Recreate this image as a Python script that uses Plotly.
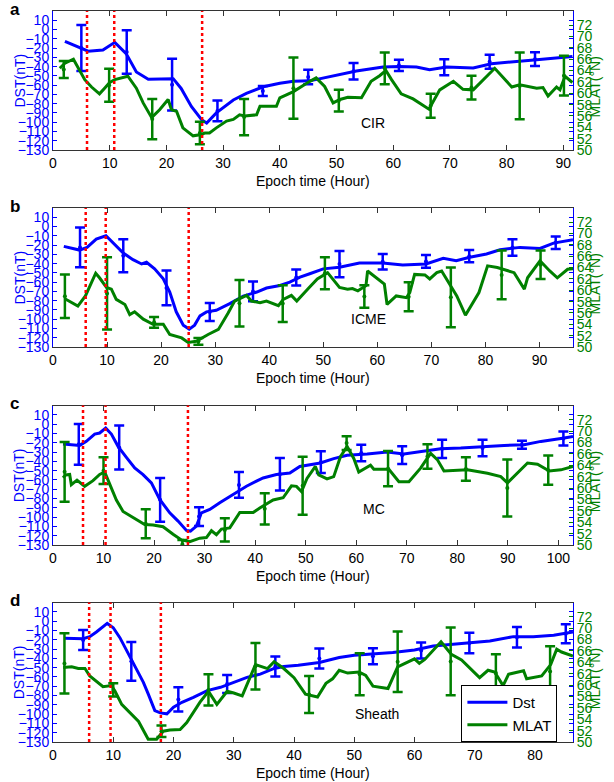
import plotly.graph_objects as go

BLUE = '#0000FF'
GREEN = '#008000'
RED = '#FF0000'
FONT = 'Liberation Sans, Arial, Helvetica, sans-serif'

# ---------------- Panel a (CIR) ----------------
A_DST_X = [2.1, 4.7, 6.2, 8.8, 10.9, 12.9, 14.7, 16.8, 19.4, 21.2, 22.6, 24.4, 26.2, 27.1, 28.8, 31.8, 34.1,
           37.1, 40.0, 42.4, 45.3, 49.4, 53.5, 58.2, 61.1, 64.1, 66.4, 69.4, 74.1, 77.3, 81.1, 85.3, 91.6]
A_DST = [-12.7, -19, -23.4, -22, -13.8, -26, -45.8, -53.6, -53.6, -53, -63.6, -83, -97.3, -100.9, -90, -76, -69,
         -61.8, -58, -55.7, -55.4, -50.4, -44.7, -40.5, -39.8, -40.5, -43.3, -40.5, -41.5, -36.9, -35.1, -32.6, -29.1]
A_MLAT_X = [1.2, 2.1, 3.6, 4.7, 5.6, 6.8, 8.2, 9.1, 10.0, 10.9, 13.2, 14.7, 15.9, 17.4, 18.8, 20.3, 20.9, 21.8,
            22.9, 24.7, 25.9, 26.8, 27.6, 28.8, 30.6, 31.8, 32.9, 33.8, 35.9, 36.5, 39.4, 40.0, 42.4, 45.3, 46.4,
            47.9, 49.4, 50.6, 52.0, 54.4, 56.1, 57.6, 58.7, 59.7, 61.4, 63.5, 65.0, 66.3, 68.2, 70.6, 72.3, 74.1,
            77.9, 80.9, 82.3, 85.3, 86.4, 87.3, 88.8, 89.4, 90.3, 91.6]
A_MLAT = [64.4, 65.3, 66.0, 64.1, 62.4, 61.1, 59.9, 60.9, 61.9, 62.4, 63.0, 60.9, 58.3, 55.7, 57.1, 58.9, 57.1, 56.8,
          53.9, 52.5, 52.7, 53.0, 53.0, 53.9, 55.1, 55.4, 56.2, 56.0, 56.2, 57.7, 57.7, 59.2, 60.3, 62.1, 62.7,
          61.2, 58.3, 58.9, 59.3, 59.2, 62.1, 63.1, 64.0, 62.4, 59.9, 59.0, 58.0, 57.2, 60.6, 62.1, 60.7, 60.6,
          64.4, 61.1, 61.5, 60.9, 61.0, 59.5, 61.1, 60.6, 63.0, 61.9]
A_DST_EX = [5, 13, 21, 29, 37, 45, 53, 61, 69, 77, 85]
A_DST_LO = [-44.7, -47.6, -87.4, -99, -71.7, -59, -54, -44.7, -49.3, -42.2, -39.4]
A_DST_HI = [5, -0.7, -31.6, -76.7, -61, -43.3, -36.2, -32.6, -32, -27.3, -24.5]
A_MLAT_EX = [1.9, 9.9, 17.5, 25.9, 33.7, 42.4, 50.4, 58.5, 66.6, 73.8, 82.3, 90.1]
A_MLAT_LO = [62.7, 58.5, 51.9, 51.0, 52.6, 55.5, 56.8, 61.6, 55.7, 58.9, 55.4, 59.6]
A_MLAT_HI = [65.7, 64.3, 59.0, 55.0, 59.0, 66.3, 60.6, 67.2, 59.9, 63.1, 67.2, 66.6]
A_EVENTS = [6.0, 10.8, 26.3]
A_XMAX = 91.7
A_XTICKS = [0, 10, 20, 30, 40, 50, 60, 70, 80, 90]

# ---------------- Panel b (ICME) ----------------
B_DST_X = [2, 3.4, 4.9, 6.3, 8, 9.8, 11.4, 13, 14.8, 16.4, 17.3, 18.8, 20.4, 21.6, 22.8, 24.1, 25.2, 26.2, 27.2,
           28.4, 30.2, 32.7, 35.2, 37.7, 39.5, 42, 43.8, 45.7, 47.5, 50, 53, 56.7, 61, 64.7, 69, 72.2, 74.6, 77.1,
           80.2, 82.7, 86.4, 90.1, 92.6, 96.2]
B_DST = [-21.4, -23.6, -25.4, -22.5, -13.6, -10, -18.9, -28.6, -35.7, -40.4, -38.6, -45.7, -56.4, -70.7, -92,
         -106.4, -110.7, -106.4, -96.4, -92.1, -90.4, -83.2, -75, -70.7, -66.4, -63.6, -60, -54.6, -51, -45.7,
         -43.9, -39.3, -39.3, -41.4, -40.4, -34.3, -36.8, -33.2, -29.6, -25, -22.5, -23.6, -17.9, -14.3]
B_MLAT_X = [2.2, 3.4, 4.6, 6.0, 7.9, 8.6, 9.9, 10.8, 11.7, 13.3, 14.2, 15.1, 16.7, 18.5, 20.4, 21.6, 23.8, 25.0,
            26.5, 28.7, 30.6, 32.4, 33.6, 35.8, 36.7, 38.3, 39.5, 41.7, 42.6, 44.1, 45.1, 47.4, 48.9, 50.8, 53.0,
            54.5, 55.4, 56.4, 57.9, 58.2, 61.3, 61.8, 63.5, 65.4, 66.0, 66.9, 68.8, 69.7, 71.0, 71.9, 74.7, 76.3,
            78.8, 80.4, 82.2, 85.3, 87.2, 87.8, 90.1, 91.9, 93.3, 95.2, 97.4]
B_MLAT = [58.5, 57.8, 57.2, 59.0, 63.0, 62.2, 60.5, 60.2, 58.4, 57.5, 55.7, 56.2, 54.9, 54.0, 54.0, 52.2, 51.6,
          50.8, 51.0, 52.2, 53.1, 56.0, 58.1, 59.1, 58.1, 57.8, 58.1, 57.3, 58.4, 59.1, 58.1, 60.5, 62.0, 63.1,
          60.5, 60.2, 60.3, 59.9, 60.8, 63.4, 61.1, 57.5, 59.0, 58.7, 59.6, 62.8, 62.7, 62.0, 63.1, 63.4, 59.0,
          55.6, 59.6, 64.3, 64.0, 63.1, 60.2, 62.2, 65.2, 63.4, 62.2, 63.7, 63.9]
B_DST_EX = [5, 13, 21, 29, 37, 45, 53, 61, 69, 77, 85, 93]
B_DST_LO = [-44, -49.3, -85, -102, -80.7, -63.6, -54.6, -46.4, -44.6, -38.6, -31.4, -24.3]
B_DST_HI = [-1, -13.6, -47.5, -82.5, -59.3, -46.4, -26.4, -29.6, -30.7, -25.4, -13.6, -10.7]
B_MLAT_EX = [2.2, 10.0, 18.7, 26.9, 34.5, 42.5, 50.3, 57.6, 65.8, 73.6, 83.0, 90.2]
B_MLAT_LO = [55.1, 53.1, 53.4, 50.4, 53.6, 54.4, 60.2, 56.9, 56.3, 53.5, 58.4, 62.0]
B_MLAT_HI = [62.8, 65.8, 55.3, 51.6, 61.8, 60.9, 65.8, 60.9, 61.4, 64.0, 67.0, 67.0]
B_EVENTS = [6.05, 9.75, 25.1]
B_XMAX = 96.2
B_XTICKS = [0, 10, 20, 30, 40, 50, 60, 70, 80, 90]

# ---------------- Panel c (MC) ----------------
C_DST_X = [1.98, 3.63, 5.28, 6.6, 8.25, 9.24, 10.43, 11.55, 12.87, 14.52, 16.17, 17.82, 19.47, 21.12, 23.1,
           24.75, 26.4, 27.2, 28.38, 29.37, 31.02, 33.0, 35.64, 38.28, 40.26, 41.58, 44.22, 46.86, 48.84, 50.8,
           52.91, 55.55, 58.2, 62.17, 66.13, 69.44, 73.4, 76.71, 80.68, 85.31, 89.27, 93.24, 96.55, 101.17, 102.9]
C_DST = [-21.4, -22.1, -22.9, -18.6, -10.7, -9.6, -4.3, -10.7, -23.9, -35.7, -47.1, -54.3, -63.2, -81.0, -95.4,
         -104.3, -114.3, -115.0, -109.6, -95.4, -91.8, -84.6, -75.7, -66.8, -61.4, -57.9, -54.3, -52.5, -45.5, -43.5,
         -41.8, -37.1, -33.6, -32.1, -30.0, -32.1, -28.6, -26.4, -25.7, -23.9, -22.9, -22.1, -18.6, -15.0, -13.2]
C_MLAT_X = [1.98, 2.51, 3.3, 3.63, 4.75, 6.27, 7.92, 9.24, 10.23, 11.22, 12.54, 13.86, 15.84, 18.15, 19.8, 21.78,
            23.76, 25.41, 27.06, 29.04, 30.36, 31.35, 32.34, 33.33, 34.98, 36.96, 39.6, 40.92, 43.56, 45.54, 47.19,
            48.18, 49.17, 50.26, 51.92, 52.58, 54.23, 55.55, 56.88, 58.2, 59.52, 60.51, 62.83, 63.49, 66.46, 68.45,
            70.43, 72.74, 74.73, 76.05, 77.37, 82.0, 85.97, 88.61, 89.93, 91.92, 93.9, 95.88, 98.2, 100.51, 102.9]
C_MLAT = [61.8, 62.3, 62.4, 60.6, 61.4, 60.3, 61.3, 62.4, 62.8, 60.7, 57.9, 55.9, 54.8, 53.6, 53.5, 53.2, 51.9,
          50.9, 50.6, 51.2, 51.3, 52.5, 51.8, 52.8, 53.0, 55.7, 55.7, 56.5, 57.9, 58.3, 60.4, 60.3, 59.4, 61.7,
          63.8, 62.3, 61.6, 62.0, 65.5, 67.3, 65.2, 62.8, 64.0, 63.3, 63.3, 61.1, 61.1, 63.5, 66.1, 65.0, 63.0,
          63.2, 62.6, 62.0, 60.9, 62.6, 64.4, 64.2, 63.0, 63.2, 63.8]
C_DST_EX = [5.1, 13.1, 21.2, 28.9, 36.8, 44.9, 53.0, 61.0, 69.1, 77.0, 85.0, 92.8, 101.0]
C_DST_LO = [-43.6, -48.9, -105, -109.6, -79.3, -71.4, -52.5, -40, -42.9, -36.4, -34.6, -26.4, -22.9]
C_DST_HI = [0, -1.4, -57.9, -89.3, -51.4, -36.4, -29.3, -22.1, -23.9, -16.8, -16.8, -17.9, -7.9]
C_MLAT_EX = [2.3, 10.0, 18.35, 25.6, 34.0, 41.9, 49.4, 58.1, 66.3, 74.1, 81.7, 89.9, 98.0]
C_MLAT_LO = [57.6, 60.7, 51.2, 49.4, 50.6, 53.6, 55.3, 66.7, 60.3, 63.4, 61.3, 55.0, 60.6]
C_MLAT_HI = [68.1, 65.4, 56.3, 50.9, 54.7, 59.1, 65.5, 69.1, 66.5, 67.7, 65.4, 65.0, 65.7]
C_EVENTS = [5.94, 10.4, 26.7]
C_XMAX = 102.9
C_XTICKS = [0, 10, 20, 30, 40, 50, 60, 70, 80, 90, 100]

# ---------------- Panel d (Sheath) ----------------
D_DST_X = [1.9, 5.0, 6.1, 7.2, 9.0, 10.0, 11.1, 12.5, 13.9, 15.0, 15.8, 16.9, 17.8, 18.9, 20.0, 21.4, 23.3, 25.6,
           27.8, 30.0, 32.2, 34.4, 36.7, 38.3, 40.7, 44.2, 47.5, 50.0, 53.1, 56.4, 60.0, 63.1, 66.4, 69.7, 72.5,
           76.4, 79.7, 83.1, 86.3]
D_DST = [-18.5, -18.9, -16.7, -11.7, -2.5, -7.1, -17.8, -35.6, -53.4, -65.9, -78.3, -96.2, -98.7, -99.7, -92.6,
         -87.3, -81.9, -74.8, -71.2, -65.9, -60.5, -57.0, -50.9, -48.8, -47.4, -44.5, -39.2, -36.7, -35.6, -33.8,
         -31.0, -26.7, -24.9, -23.1, -21.4, -16.7, -16.7, -15.3, -11.7]
D_MLAT_X = [1.7, 3.1, 4.2, 5.3, 6.1, 7.2, 8.3, 9.7, 10.3, 11.4, 12.8, 14.2, 15.8, 17.2, 18.3, 19.4, 21.1, 22.2,
            24.4, 25.8, 27.2, 28.9, 30.0, 31.4, 33.6, 35.6, 36.7, 38.3, 40.0, 41.9, 43.9, 45.3, 46.4, 47.5, 48.9,
            50.8, 51.9, 53.1, 55.6, 57.2, 60.0, 60.8, 61.7, 64.4, 66.1, 67.8, 70.8, 72.2, 73.3, 74.7, 75.6, 78.1,
            78.6, 81.1, 82.6, 83.6, 84.4, 86.3]
D_MLAT = [63.1, 63.2, 62.9, 62.9, 61.6, 60.7, 59.7, 59.9, 58.9, 56.6, 55.1, 53.6, 50.5, 50.5, 51.9, 52.1, 52.2,
          53.4, 57.0, 58.9, 56.6, 58.9, 58.6, 58.1, 63.6, 62.9, 64.1, 62.9, 61.3, 58.4, 57.9, 60.3, 61.1, 62.6,
          62.1, 62.3, 61.7, 59.8, 59.4, 63.2, 64.6, 63.8, 64.5, 67.6, 65.4, 64.4, 61.3, 62.6, 62.3, 59.9, 61.9,
          62.5, 61.1, 61.6, 63.6, 66.3, 65.8, 65.1]
D_DST_EX = [5, 13, 20.8, 28.9, 36.9, 44.2, 53.1, 61.1, 69.1, 77, 85.1]
D_DST_LO = [-31, -64.1, -97.2, -77.3, -59.5, -50.9, -46.3, -40.2, -34.5, -28.5, -23.8]
D_DST_HI = [-9.6, -22.4, -71.2, -58, -38.1, -29.5, -29.2, -23.1, -12.4, -6.4, -3.5]
D_MLAT_EX = [1.9, 10.0, 18.0, 25.8, 33.6, 42.5, 50.9, 57.2, 66.0, 73.5, 82.5]
D_MLAT_LO = [58.5, 58.0, 50.9, 56.4, 59.2, 55.1, 58.2, 58.8, 58.2, 58.8, 58.0]
D_MLAT_HI = [69.1, 60.3, 52.9, 61.9, 67.4, 61.6, 65.6, 69.4, 70.1, 65.4, 66.8]
D_EVENTS = [6.0, 9.55, 17.9]
D_XMAX = 86.3
D_XTICKS = [0, 10, 20, 30, 40, 50, 60, 70, 80]

PANEL_LETTERS = ['a', 'b', 'c', 'd']
EVENT_NAMES = ['CIR', 'ICME', 'MC', 'Sheath']
EVENT_LABEL_X = [56.4, 58.3, 63.5, 53.8]
EVENT_LABEL_Y = [-100.5, -99.3, -91.8, -99.7]

DST_TICKS = list(range(-130, 20, 10))
MLAT_TICKS = list(range(50, 74, 2))
DST_RANGE = [-130, 20]
MLAT_RANGE = [50, 74.5]

panels = [
    (A_DST_X, A_DST, A_MLAT_X, A_MLAT, A_DST_EX, A_DST_LO, A_DST_HI, A_MLAT_EX, A_MLAT_LO, A_MLAT_HI, A_EVENTS, A_XMAX, A_XTICKS),
    (B_DST_X, B_DST, B_MLAT_X, B_MLAT, B_DST_EX, B_DST_LO, B_DST_HI, B_MLAT_EX, B_MLAT_LO, B_MLAT_HI, B_EVENTS, B_XMAX, B_XTICKS),
    (C_DST_X, C_DST, C_MLAT_X, C_MLAT, C_DST_EX, C_DST_LO, C_DST_HI, C_MLAT_EX, C_MLAT_LO, C_MLAT_HI, C_EVENTS, C_XMAX, C_XTICKS),
    (D_DST_X, D_DST, D_MLAT_X, D_MLAT, D_DST_EX, D_DST_LO, D_DST_HI, D_MLAT_EX, D_MLAT_LO, D_MLAT_HI, D_EVENTS, D_XMAX, D_XTICKS),
]

W, H = 614, 782
ML, MR, MT, MB = 53, 41, 11, 40
PH = H - MT - MB
ROW_TOP = [11, 208, 405.5, 602.5]
ROW_BOT = [150, 347, 545, 742]

fig = go.Figure()
layout = {}
shapes = []
annotations = []


def mid_half(lo, hi):
    mids = [(a + b) / 2 for a, b in zip(lo, hi)]
    halves = [(b - a) / 2 for a, b in zip(lo, hi)]
    return mids, halves


for i, p in enumerate(panels):
    (dx, dy, mx, my, dex, dlo, dhi, mex, mlo, mhi, events, xmax, xticks) = p
    r = i + 1
    xa = 'x' if r == 1 else f'x{r}'
    yl_n, yr_n, yb_n = 3 * i + 1, 3 * i + 2, 3 * i + 3
    yl = 'y' if yl_n == 1 else f'y{yl_n}'
    yr = f'y{yr_n}'
    yb = f'y{yb_n}'
    dom = [(H - MB - ROW_BOT[i]) / PH, (H - MB - ROW_TOP[i]) / PH]

    xkey = 'xaxis' if r == 1 else f'xaxis{r}'
    layout[xkey] = dict(domain=[0, 1], anchor=yl, range=[0, xmax], tickvals=xticks,
                        ticks='inside', ticklen=5, tickcolor='#333', tickwidth=1,
                        showline=True, linecolor='#333', linewidth=1, mirror='ticks',
                        showgrid=False, zeroline=False, automargin=False,
                        tickfont=dict(family=FONT, size=14, color='black'))
    lkey = 'yaxis' if yl_n == 1 else f'yaxis{yl_n}'
    layout[lkey] = dict(domain=dom, anchor=xa, range=DST_RANGE, tickvals=DST_TICKS,
                        ticks='inside', ticklen=4, tickcolor=BLUE, tickwidth=1,
                        showline=True, linecolor=BLUE, linewidth=1,
                        showgrid=False, zeroline=False, automargin=False,
                        tickfont=dict(family=FONT, size=14, color=BLUE))
    layout[f'yaxis{yr_n}'] = dict(overlaying=yl, side='right', anchor=xa, range=MLAT_RANGE,
                                  tickvals=MLAT_TICKS, ticks='inside', ticklen=4, tickcolor=GREEN,
                                  tickwidth=1, showline=True, linecolor=BLUE, linewidth=1,
                                  showgrid=False, zeroline=False, automargin=False,
                                  tickfont=dict(family=FONT, size=14, color=GREEN))
    layout[f'yaxis{yb_n}'] = dict(overlaying=yl, side='right', anchor=xa, range=DST_RANGE,
                                  tickvals=DST_TICKS, ticks='inside', ticklen=4, tickcolor=BLUE,
                                  tickwidth=1, showticklabels=False, showline=False,
                                  showgrid=False, zeroline=False, automargin=False)

    # invisible trace so the blue-tick axis is drawn
    fig.add_trace(go.Scatter(x=[None], y=[None], xaxis=xa, yaxis=yb, showlegend=False,
                             hoverinfo='skip'))

    fig.add_trace(go.Scatter(x=dx, y=dy, mode='lines', name='Dst', xaxis=xa, yaxis=yl,
                             line=dict(color=BLUE, width=3), showlegend=(r == 1),
                             legendrank=1))
    dm, dh = mid_half(dlo, dhi)
    fig.add_trace(go.Scatter(x=dex, y=dm, mode='markers', xaxis=xa, yaxis=yl, showlegend=False,
                             marker=dict(color=BLUE, size=4),
                             error_y=dict(type='data', array=dh, visible=True, color=BLUE,
                                          thickness=2.5, width=5)))

    fig.add_trace(go.Scatter(x=mx, y=my, mode='lines', name='MLAT', xaxis=xa, yaxis=yr,
                             line=dict(color=GREEN, width=3), showlegend=(r == 1),
                             legendrank=2))
    mm, mh = mid_half(mlo, mhi)
    fig.add_trace(go.Scatter(x=mex, y=mm, mode='markers', xaxis=xa, yaxis=yr, showlegend=False,
                             marker=dict(color=GREEN, size=4),
                             error_y=dict(type='data', array=mh, visible=True, color=GREEN,
                                          thickness=2.5, width=5)))

    for ev in events:
        shapes.append(dict(type='line', xref=xa, yref=f'{yl} domain', x0=ev, x1=ev, y0=0, y1=1,
                           line=dict(color=RED, width=2.5, dash='dot'), layer='above'))

    # texts
    annotations.append(dict(text=EVENT_NAMES[i], x=EVENT_LABEL_X[i], y=EVENT_LABEL_Y[i],
                            xref=xa, yref=yl, showarrow=False,
                            font=dict(family=FONT, size=14, color='black')))
    annotations.append(dict(text=f'<b>{PANEL_LETTERS[i]}</b>', x=(8 - ML) / (W - ML - MR), y=1,
                            xref='paper', yref=f'{yl} domain', yanchor='middle', yshift=2,
                            showarrow=False, font=dict(family=FONT, size=17, color='black')))
    annotations.append(dict(text='DST(nT)', x=(9 - ML) / (W - ML - MR), y=0.5, xref='paper',
                            yref=f'{yl} domain', textangle=-90, showarrow=False,
                            font=dict(family=FONT, size=14, color=BLUE)))
    annotations.append(dict(text='MLAT(°N)', x=(605 - ML) / (W - ML - MR), y=0.45, xref='paper',
                            yref=f'{yl} domain', textangle=-90, showarrow=False,
                            font=dict(family=FONT, size=14, color=GREEN)))
    annotations.append(dict(text='Epoch time (Hour)', x=0.5, y=0, xref=f'{xa} domain',
                            yref=f'{yl} domain', yanchor='middle', yshift=-31, showarrow=False,
                            font=dict(family=FONT, size=14, color='black')))

fig.update_layout(
    width=W, height=H,
    margin=dict(l=ML, r=MR, t=MT, b=MB, pad=0, autoexpand=False),
    paper_bgcolor='white', plot_bgcolor='white',
    font=dict(family=FONT, size=14, color='black'),
    shapes=shapes, annotations=annotations,
    legend=dict(x=0.97, y=0, xanchor='right', yanchor='bottom', bgcolor='white',
                bordercolor='black', borderwidth=1, font=dict(family=FONT, size=15),
                tracegroupgap=0, itemwidth=40),
    **layout,
)

fig.write_html('out.html', config={'displayModeBar': False},
               post_script="document.body.style.margin='0px';document.body.style.overflow='hidden';")
